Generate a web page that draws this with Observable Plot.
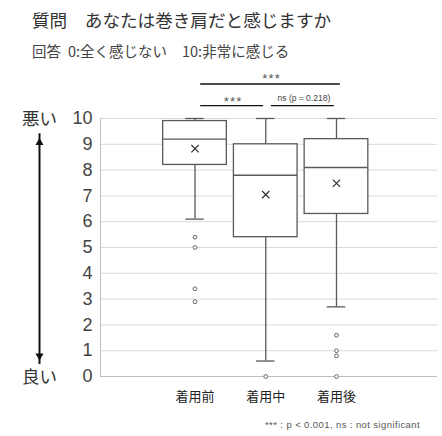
<!DOCTYPE html>
<html><head><meta charset="utf-8">
<script src="https://cdn.jsdelivr.net/npm/d3@7"></script>
<script src="https://cdn.jsdelivr.net/npm/@observablehq/plot@0.6"></script>
<style>
body{margin:0;background:#fff;font-family:"Noto Sans CJK JP","Noto Sans",sans-serif;}
#wrap{position:relative;width:442px;height:436px;overflow:hidden;}
#title{position:absolute;left:32px;top:9px;font-size:17.6px;line-height:22px;color:#333;white-space:nowrap;}
.sub{position:absolute;top:41px;font-size:14.5px;line-height:20px;color:#444;white-space:nowrap;}
#chart{position:absolute;left:0;top:60px;}
#note{position:absolute;left:265px;top:419px;font-size:9.5px;letter-spacing:0.4px;line-height:12px;color:#555;white-space:nowrap;font-family:"Liberation Sans","Noto Sans CJK JP",sans-serif;}
</style></head>
<body><div id="wrap">
<div id="title">質問　あなたは巻き肩だと感じますか</div>
<div class="sub" style="left:32px">回答</div>
<div class="sub" style="left:68px">0:全く感じない</div>
<div class="sub" style="left:182px">10:非常に感じる</div>
<div id="chart"></div>
<div id="note">*** : p &lt; 0.001, ns : not significant</div>
</div>
<script>
const categories = ["着用前", "着用中", "着用後"];
const whiskerHigh = [10, 10, 10];
const q3 = [9.9, 9.0, 9.2];
const median = [9.2, 7.8, 8.1];
const q1 = [8.2, 5.4, 6.3];
const whiskerLow = [6.1, 0.6, 2.7];
const mean = [8.83, 7.05, 7.49];
const outliersBefore = [5.4, 5.0, 3.4, 2.9];
const outliersDuring = [0];
const outliersAfter = [1.6, 1.0, 0.8, 0];
const yTicks = [0, 1, 2, 3, 4, 5, 6, 7, 8, 9, 10];
const endLabels = ["良い", "悪い"];
const bracketFrom = [1, 1, 2];
const bracketTo = [3, 2, 3];
const bracketLabels = ["***", "***", "ns (p = 0.218)"];
const bracketLevel = [2, 1, 1];

const rows = categories.map((c, i) => ({
  cat: c, pos: i + 1, hi: whiskerHigh[i], q3: q3[i], med: median[i],
  q1: q1[i], lo: whiskerLow[i], mean: mean[i]
}));
const outlierLists = [outliersBefore, outliersDuring, outliersAfter];
const outliers = outlierLists.flatMap((list, i) => list.map(v => ({pos: i + 1, v})));
const brackets = bracketFrom.map((f, i) => ({from: f, to: bracketTo[i], label: bracketLabels[i], level: bracketLevel[i]}));

const xDomain = [-0.336, 4.428];
const yDomain = [0, 10];
const lineY = l => l === 2 ? 11.34 : 10.5;
const labelY = l => l === 2 ? 11.67 : 10.8;
const bx1 = d => d.from + 0.08;
const bx2 = d => d.to + (d.level === 2 ? 0.055 : -0.03);
const boxHalf = 0.45, capHalf = 0.13;
const boxStroke = "#595959";
const arrowEnds = [0.62, 9.25];
const sideDx = -61;
const jp = "'Noto Sans CJK JP',sans-serif";

const chart = Plot.plot({
  width: 442, height: 376,
  marginLeft: 100, marginRight: 5, marginTop: 58, marginBottom: 60,
  x: {type: "linear", domain: xDomain, axis: null},
  y: {domain: yDomain, axis: null},
  style: {fontFamily: "'Liberation Sans','Noto Sans CJK JP',sans-serif", background: "white", overflow: "visible"},
  marks: [
    Plot.ruleY(yTicks.filter(t => t > 0), {stroke: "#d9d9d9", strokeWidth: 1}),
    Plot.ruleY([0], {stroke: "#bfbfbf", strokeWidth: 1}),
    Plot.ruleX([xDomain[0]], {y1: yDomain[0], y2: yDomain[1], stroke: "#bfbfbf", strokeWidth: 1}),
    // whiskers
    Plot.ruleX(rows, {x: "pos", y1: "q3", y2: "hi", stroke: boxStroke, strokeWidth: 1.3}),
    Plot.ruleX(rows, {x: "pos", y1: "lo", y2: "q1", stroke: boxStroke, strokeWidth: 1.3}),
    Plot.ruleY(rows, {y: "hi", x1: d => d.pos - capHalf, x2: d => d.pos + capHalf, stroke: boxStroke, strokeWidth: 1.3}),
    Plot.ruleY(rows, {y: "lo", x1: d => d.pos - capHalf, x2: d => d.pos + capHalf, stroke: boxStroke, strokeWidth: 1.3}),
    // boxes
    Plot.rect(rows, {x1: d => d.pos - boxHalf, x2: d => d.pos + boxHalf, y1: "q1", y2: "q3", fill: "white", stroke: boxStroke, strokeWidth: 1.3}),
    Plot.ruleY(rows, {y: "med", x1: d => d.pos - boxHalf, x2: d => d.pos + boxHalf, stroke: boxStroke, strokeWidth: 1.3}),
    Plot.dot(rows, {x: "pos", y: "mean", symbol: "times", r: 3.4, stroke: "#333", strokeWidth: 1.2}),
    Plot.dot(outliers, {x: "pos", y: "v", r: 1.9, stroke: "#666", fill: "white", strokeWidth: 1}),
    // y tick labels
    Plot.text(yTicks, {y: d => d, text: d => String(d), frameAnchor: "left", dx: -8, textAnchor: "end", lineAnchor: "middle", fontSize: 18, fill: "#444"}),
    // x labels
    Plot.text(rows, {x: "pos", text: "cat", frameAnchor: "bottom", lineAnchor: "middle", dy: 20, fontSize: 13, fill: "#222", fontFamily: jp}),
    // side labels and arrow
    Plot.text(endLabels, {y: (d, i) => yDomain[i], text: d => d, frameAnchor: "left", textAnchor: "middle", lineAnchor: "middle", dx: sideDx, dy: 1, fontSize: 17.5, fill: "#333", fontFamily: jp}),
    Plot.ruleX([xDomain[0]], {y1: arrowEnds[0], y2: arrowEnds[1], dx: sideDx, stroke: "#111", strokeWidth: 2, insetTop: 4, insetBottom: 4}),
    Plot.dot([arrowEnds[1]], {x: () => xDomain[0], y: d => d, dx: sideDx, dy: 4.7, symbol: "triangle", r: 3, fill: "#111"}),
    Plot.dot([arrowEnds[0]], {x: () => xDomain[0], y: d => d, dx: sideDx, dy: -4.7, symbol: "triangle", rotate: 180, r: 3, fill: "#111"}),
    // significance brackets
    Plot.ruleY(brackets, {y: d => lineY(d.level), x1: bx1, x2: bx2, stroke: "#111", strokeWidth: d => d.level === 2 ? 1.6 : 1.3}),
    Plot.text(brackets.filter(d => d.label === "***"), {x: d => (bx1(d) + bx2(d)) / 2, y: d => labelY(d.level), dy: 3.5, dx: 1, text: "label", fontSize: 13, fill: "#555"}),
    Plot.text(brackets.filter(d => d.label !== "***"), {x: d => (bx1(d) + bx2(d)) / 2, y: d => labelY(d.level), dx: 1, text: "label", fontSize: 8.5, fill: "#444"})
  ]
});
d3.select(chart).selectAll("text").filter(function () { return this.textContent === "***"; }).style("letter-spacing", "1.2px");
document.getElementById("chart").appendChild(chart);
</script>
</body></html>
